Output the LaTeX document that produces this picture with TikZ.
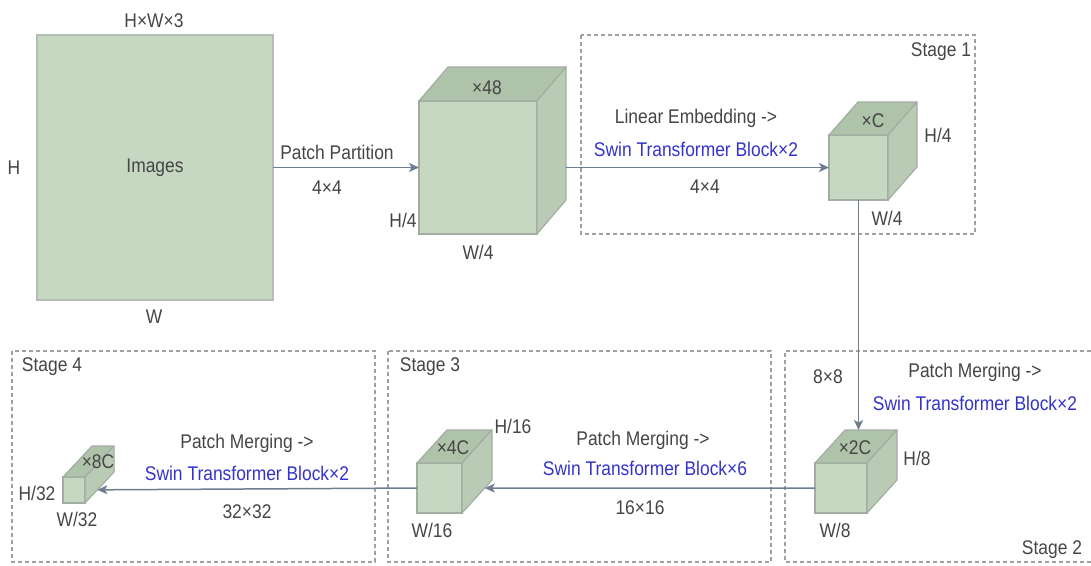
\documentclass[tikz,border=0pt]{standalone}
\usepackage{fontspec}
\setmainfont{Liberation Sans}
\newfontfamily\lblfont[FakeStretch=0.88]{Liberation Sans}
\usetikzlibrary{calc,arrows.meta}

\definecolor{txt}{HTML}{454545}
\definecolor{swinblue}{HTML}{3333CC}
\definecolor{facefront}{HTML}{C6D8C2}
\definecolor{facetop}{HTML}{AFC3AA}
\definecolor{faceside}{HTML}{B9CBB4}
\definecolor{edgegray}{HTML}{A2AEA2}
\definecolor{flow}{HTML}{6E7D90}
\definecolor{framegray}{HTML}{A0A0A0}

\tikzset{
  lbl/.style={text=txt, font=\lblfont\fontsize{19.8}{22}\selectfont, inner sep=0pt},
  swin/.style={lbl, text=swinblue},
  front/.style={draw=edgegray, fill=facefront, line width=1.2pt, inner sep=0pt, outer sep=0pt},
  topface/.style={draw=edgegray, fill=facetop, line width=1.2pt, line join=round},
  sideface/.style={draw=edgegray, fill=faceside, line width=1.2pt, line join=round},
  flowline/.style={draw=flow, line width=1.5pt},
  flowarrow/.style={flowline, -{Stealth[length=10pt, width=9pt, inset=2.5pt]}},
  stagebox/.style={draw=framegray, line width=1.1pt, dash pattern=on 4pt off 3pt},
}

% top and side faces of a box whose front face is node #1, receding by (#2,#3) pt
\newcommand\cubefaces[3]{%
  \coordinate (#1-bnw) at ($(#1.north west)+(#2pt,#3pt)$);
  \coordinate (#1-bne) at ($(#1.north east)+(#2pt,#3pt)$);
  \coordinate (#1-bse) at ($(#1.south east)+(#2pt,#3pt)$);
  \draw[topface] (#1.north west) -- (#1-bnw) -- (#1-bne) -- (#1.north east) -- cycle;
  \draw[sideface] (#1.north east) -- (#1-bne) -- (#1-bse) -- (#1.south east) -- cycle;
}

\begin{document}
\begin{tikzpicture}[x=1pt, y=-1pt]
\useasboundingbox (0,0) rectangle (1091,565);

% stage frames
\draw[stagebox] (581,35) rectangle (975,234);
\draw[stagebox] (1091,351) -- (785,351) -- (785,562) -- (1091,562);
\draw[stagebox] (388,351) rectangle (771,562);
\draw[stagebox] (12,351) rectangle (375,562);
\node[lbl] (s1) at (941,52) {Stage 1};
\node[lbl] (s2) at (1052,550) {Stage 2};
\node[lbl] (s3) at (430,367) {Stage 3};
\node[lbl] (s4) at (52,367) {Stage 4};

% input image
\node[front, draw=edgegray!80, minimum width=236pt, minimum height=265pt] (img) at (155,167.5) {};
\node[lbl] (imgtxt) at (155,168) {Images};
\node[lbl] (imgc) at (154,21) {H×W×3};
\node[lbl] (imgh) at (14,168) {H};
\node[lbl] (imgw) at (154,317) {W};

% patch tensor
\node[front, minimum width=118pt, minimum height=133pt] (c48) at (478,167.5) {};
\cubefaces{c48}{29}{34}
\node[lbl] (c48c) at (487,88) {×48};
\node[lbl] (c48h) at (403,220) {H/4};
\node[lbl] (c48w) at (478,252) {W/4};

% stage 1 tensor
\node[front, minimum width=59pt, minimum height=65pt] (cC) at (858.5,167.5) {};
\cubefaces{cC}{29}{33}
\node[lbl] (cCc) at (873,121) {×C};
\node[lbl] (cCh) at (938,135) {H/4};
\node[lbl] (cCw) at (887,218) {W/4};

% stage 2 tensor
\node[front, minimum width=52pt, minimum height=50pt] (c2) at (841,488) {};
\cubefaces{c2}{30}{33}
\node[lbl] (c2c) at (855,448) {×2C};
\node[lbl] (c2h) at (917,458) {H/8};
\node[lbl] (c2w) at (835,530) {W/8};

% stage 3 tensor
\node[front, minimum width=45pt, minimum height=50pt] (c4) at (439.5,488) {};
\cubefaces{c4}{30}{33}
\node[lbl] (c4c) at (453,448) {×4C};
\node[lbl] (c4h) at (513,426) {H/16};
\node[lbl] (c4w) at (432,530) {W/16};

% stage 4 tensor
\node[front, minimum width=22pt, minimum height=26pt] (c8) at (74,490) {};
\cubefaces{c8}{29}{31}
\node[lbl] (c8c) at (98,462) {×8C};
\node[lbl] (c8h) at (37,493) {H/32};
\node[lbl] (c8w) at (77,519) {W/32};

% connectors
\draw[flowarrow] (img.east) -- (c48.west);
\node[lbl] (pp) at (337,152) {Patch Partition};
\node[lbl] (pp44) at (327,188) {4×4};

\draw[flowarrow] (c48-bne |- c48.east) -- (cC.west);
\node[lbl] (le) at (696,118) {Linear Embedding ->};
\node[swin] (le2) at (696,149) {Swin Transformer Block×2};
\node[lbl] (le44) at (705,187) {4×4};

\draw[flowarrow] (cC.south) -- (cC.south |- c2-bnw);
\node[lbl] (m88) at (828,377) {8×8};
\node[lbl] (pm2) at (975,372) {Patch Merging ->};
\node[swin] (pm2b) at (975,403) {Swin Transformer Block×2};

\draw[flowarrow] (c2.west) -- (intersection of c4.south east--c4-bse and c2.west--c4.west);
\node[lbl] (pm3) at (643,440) {Patch Merging ->};
\node[swin] (pm3b) at (645,468) {Swin Transformer Block×6};
\node[lbl] (m16) at (640,508) {16×16};

\draw[flowarrow] (c4.west) -- (intersection of c8.south east--c8-bse and c4.west--c8.west);
\node[lbl] (pm4) at (247,443) {Patch Merging ->};
\node[swin] (pm4b) at (247,473) {Swin Transformer Block×2};
\node[lbl] (m32) at (247,512) {32×32};
\end{tikzpicture}
\end{document}
